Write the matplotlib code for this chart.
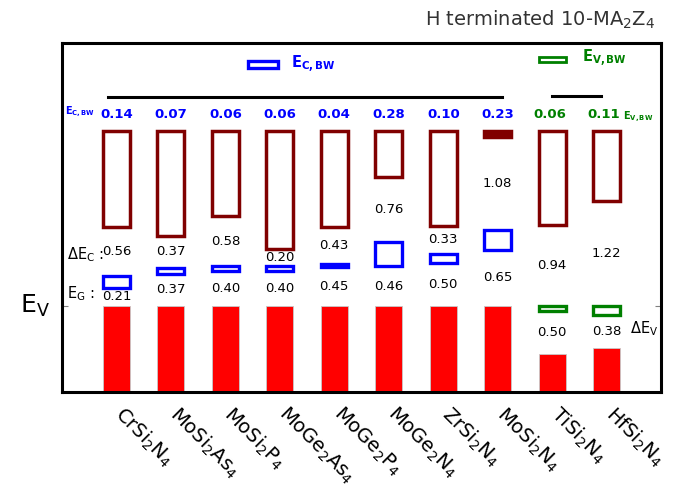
import numpy as np
import matplotlib.pyplot as plt
from matplotlib.patches import Rectangle
from matplotlib.transforms import ScaledTranslation

# 物質名
names = ['CrSi$_2$N$_4$', 'MoSi$_2$As$_4$', 'MoSi$_2$P$_4$', 'MoGe$_2$As$_4$',
         'MoGe$_2$P$_4$', 'MoGe$_2$N$_4$', 'ZrSi$_2$N$_4$', 'MoSi$_2$N$_4$',
         'TiSi$_2$N$_4$', 'HfSi$_2$N$_4$']

# 伝導帯側のバンド幅 (先頭8つ), 価電子帯側のバンド幅 (Ti, Hf)
ec_bw = [0.14, 0.07, 0.06, 0.06, 0.04, 0.28, 0.10, 0.23]
ev_bw = [0.06, 0.11]
# エネルギー差 [eV]
d_ec = [0.56, 0.37, 0.58, 0.20, 0.43, 0.76, 0.33, 1.08]
d_ev = [0.50, 0.38]
e_g = [0.21, 0.37, 0.40, 0.40, 0.45, 0.46, 0.50, 0.65, 0.94, 1.22]

cb_top = 2.03   # 伝導帯の上端 (描画用)
y_min, y_max = -1.0, 3.05

n_c = len(ec_bw)
w = 0.5     # 棒の幅

fig = plt.figure(figsize=(6.88, 5.0), dpi=100)
ax = fig.add_axes([0.090, 0.216, 0.871, 0.698])
ax.set_xlim(-1, len(names))
ax.set_ylim(y_min, y_max)

blue = '#0000ff'
brown = '#800000'
green = '#008000'

for i in range(len(names)):
    x0 = i - w / 2
    if i < n_c:
        vb_top = 0.0
        cb_low = e_g[i]
        cbw_top = e_g[i] + ec_bw[i]
        cb_bot = cbw_top + d_ec[i]
        # E_C,BW
        ax.add_patch(Rectangle((x0, cb_low), w, ec_bw[i], facecolor='white',
                               edgecolor=blue, lw=2.4, zorder=3))
        ax.text(i, (cbw_top + cb_bot) / 2, f'{d_ec[i]:.2f}', ha='center', va='center', fontsize=9.5)
        ax.text(i, (vb_top + cb_low) / 2, f'{e_g[i]:.2f}', ha='center', va='center', fontsize=9.5)
        ax.text(i, 2.22, f'{ec_bw[i]:.2f}', ha='center', va='center', fontsize=9.5,
                fontweight='bold', color=blue)
    else:
        k = i - n_c
        vb_top = -(ev_bw[k] + d_ev[k])
        cb_bot = e_g[i]
        # E_V,BW
        ax.add_patch(Rectangle((x0, -ev_bw[k]), w, ev_bw[k], facecolor='white',
                               edgecolor=green, lw=2.4, zorder=3))
        ax.text(i, (vb_top - ev_bw[k]) / 2, f'{d_ev[k]:.2f}', ha='center', va='center', fontsize=9.5)
        ax.text(i, cb_bot / 2, f'{e_g[i]:.2f}', ha='center', va='center', fontsize=9.5)
        ax.text(i - 0.05, 2.22, f'{ev_bw[k]:.2f}', ha='center', va='center', fontsize=9.5,
                fontweight='bold', color=green)
    # 価電子帯
    ax.bar(i, vb_top - y_min, bottom=y_min, width=w, color='#ff0000',
           edgecolor='#c8c8c8', lw=0.6, zorder=2)
    # 伝導帯 (薄いものは塗りつぶし)
    h_cb = cb_top - cb_bot
    ax.add_patch(Rectangle((x0, cb_bot), w, h_cb,
                           facecolor=brown if h_cb < 0.1 else 'white',
                           edgecolor=brown, lw=2.5, zorder=3))

# 凡例の代わり
ax.add_patch(Rectangle((2.69 - 0.27, 2.755), 0.54, 0.09, facecolor='white',
                       edgecolor=blue, lw=2.4))
ax.text(3.2, 2.80, r'$\mathbf{E_{C,BW}}$', color=blue, fontsize=10.5, va='center')
ax.add_patch(Rectangle((8.01 - 0.25, 2.83), 0.5, 0.06, facecolor='white',
                       edgecolor=green, lw=2.0))
ax.text(8.55, 2.87, r'$\mathbf{E_{V,BW}}$', color=green, fontsize=10.5, va='center')

# グループ分けの線
ax.plot([-0.16, n_c - 1 + 0.07], [2.42, 2.42], color='black', lw=2.2)
ax.plot([n_c - 0.01, n_c + 0.89], [2.43, 2.43], color='black', lw=2.2)

ax.text(-0.95, 2.25, r'$\mathbf{E_{C,BW}}$', color=blue, fontsize=7, va='center')
ax.text(9.3, 2.19, r'$\mathbf{E_{V,BW}}$', color=green, fontsize=7, va='center')
ax.text(-0.9, 0.595, r'$\Delta$E$_\mathrm{C}$ :', ha='left', va='center', fontsize=10.5)
ax.text(-0.9, 0.14, r'E$_\mathrm{G}$ :', ha='left', va='center', fontsize=10.5)
ax.text(9.43, -0.27, r'$\Delta$E$_\mathrm{V}$', ha='left', va='center', fontsize=10.5)

ax.text(-0.02, 0, r'E$_\mathrm{V}$', transform=ax.get_yaxis_transform(),
        ha='right', va='center', fontsize=18)

ax.set_xticks(range(len(names)))
ax.set_xticklabels(names, rotation=-45, ha='left', va='top',
                   rotation_mode='anchor', fontsize=14)
ax.tick_params(axis='x', length=0, pad=8)
shift = ScaledTranslation(7 / 72, 0, fig.dpi_scale_trans)
for lab in ax.get_xticklabels():
    lab.set_transform(lab.get_transform() + shift)
ax.set_yticks([0])
ax.tick_params(axis='y', direction='in', length=4, color='gray',
               left=True, right=True, labelleft=False)
for s in ax.spines.values():
    s.set_linewidth(2.2)

fig.text(0.952, 0.96, 'H terminated 10-MA$_2$Z$_4$', ha='right', va='center',
         fontsize=14, color='#333333')

plt.savefig('out.png', dpi=100)
